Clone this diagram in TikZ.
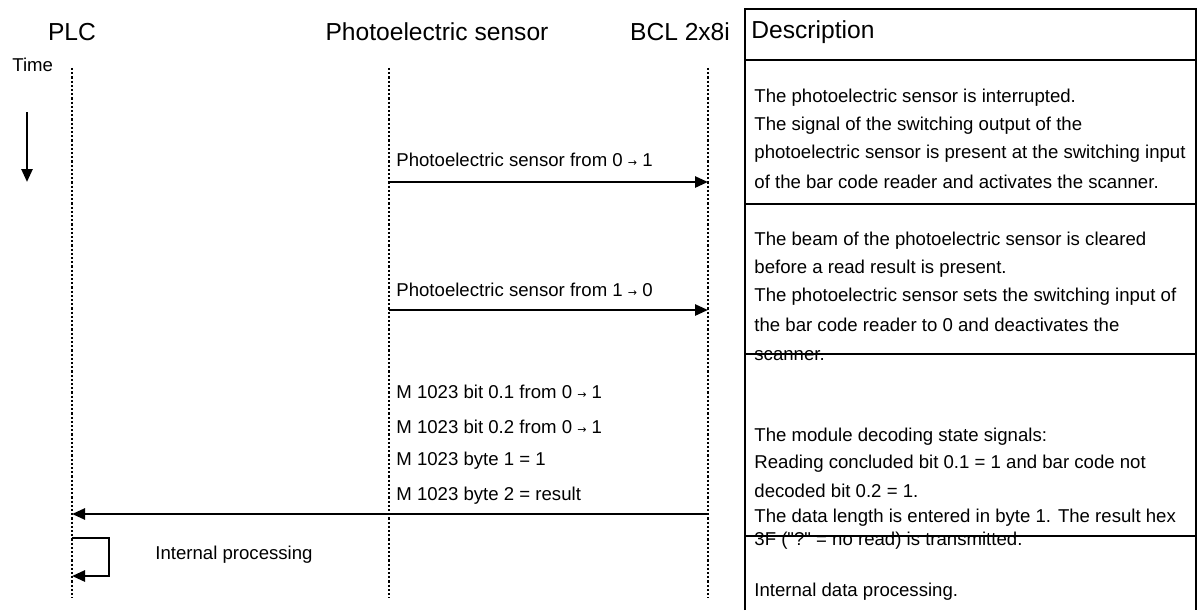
\documentclass[tikz,border=0pt]{standalone}
\usepackage{fontspec}
\setmainfont{Liberation Sans}
\newfontfamily\symfont{DejaVu Sans}
\newfontfamily\plainfont{Liberation Sans}
\usetikzlibrary{arrows.meta}
\newcommand{\tto}{{\symfont\fontsize{5.5}{6}\selectfont →}}

\begin{document}
\begin{tikzpicture}[x=0.5pt, y=-0.5pt,
    head/.style={font=\fontsize{12.3}{14}\selectfont, inner sep=0pt},
    txt/.style={font=\fontsize{9.3}{11}\selectfont, anchor=west, inner sep=0pt},
    life/.style={line width=1.2pt, dash pattern=on 1.1pt off 1pt},
    msg/.style={line width=1.3pt, -{Triangle[length=6.5pt,width=5.5pt]}},
    tab/.style={line width=1.3pt}]
    \useasboundingbox (0,0) rectangle (1197,610);
    % lifelines
    \node[head] (plc) at (72,32) {PLC};
    \node[head] (pes) at (437,32) {Photoelectric sensor};
    \node[head] (bcl) at (680,32) {BCL 2x8i};
    \foreach \n/\x in {plc/72, pes/389, bcl/708} {
        \coordinate (\n-top) at (\x,68);
        \coordinate (\n-bot) at (\x,598);
        \draw[life] (\n-top) -- (\n-bot);
    }
    \node[txt] (time) at (12,65) {Time};
    \coordinate (t0) at (27,112);
    \coordinate (t1) at (27,182);
    \draw[msg] (t0) -- (t1);
    % messages
    \node[txt] (m1) at (396,160) {Photoelectric sensor from 0 \tto{} 1};
    \draw[msg] (pes-top |- 0,182) -- (bcl-top |- 0,182);
    \node[txt] (m2) at (396,290) {Photoelectric sensor from 1 \tto{} 0};
    \draw[msg] (pes-top |- 0,310) -- (bcl-top |- 0,310);
    \node[txt] (m3) at (396,392) {M 1023 bit 0.1 from 0 \tto{} 1};
    \node[txt] (m4) at (396,427) {M 1023 bit 0.2 from 0 \tto{} 1};
    \node[txt] (m5) at (396,461) {M 1023 byte 1 = 1};
    \node[txt] (m6) at (396,496) {M 1023 byte 2 = result};
    \draw[msg] (bcl-top |- 0,514) -- (plc-top |- 0,514);
    \draw[msg] (plc-top |- 0,538) -- ++(37,0) |- (plc-top |- 0,576);
    \node[txt] (proc) at (155,555) {Internal processing};
    % description table
    \node[head, anchor=west] (desc) at (751,32) {Description};
    \node[txt] (d1) at (754,98) {The photoelectric sensor is interrupted.};
    \node[txt] (d2) at (754,126) {The signal of the switching output of the};
    \node[txt] (d3) at (754,154) {photoelectric sensor is present at the switching input};
    \node[txt] (d4) at (754,182) {of the bar code reader and activates the scanner.};
    \node[txt] (d5) at (754,241) {The beam of the photoelectric sensor is cleared};
    \node[txt] (d6) at (754,269) {before a read result is present.};
    \node[txt] (d7) at (754,297) {The photoelectric sensor sets the switching input of};
    \node[txt] (d8) at (754,325) {the bar code reader to 0 and deactivates the};
    \node[txt] (d9) at (754,356) {scanner.};
    \node[txt] (d10) at (754,437) {The module decoding state signals:};
    \node[txt] (d11) at (754,464) {Reading concluded bit 0.1 = 1 and bar code not};
    \node[txt] (d12) at (754,491) {decoded bit 0.2 = 1.};
    \node[txt] (d13) at (754,518) {The data length is entered in byte 1. The result hex};
    \node[txt] (d14) at (754,541) {\plainfont 3F ("?" = no read) is transmitted.};
    \node[txt] (d15) at (754,592) {Internal data processing.};
    \draw[tab] (745,610) -- (745,9) -- (1196,9) -- (1196,610);
    \foreach \y in {60,204,354,536}
        \draw[tab] (745,\y) -- (1196,\y);
\end{tikzpicture}
\end{document}
